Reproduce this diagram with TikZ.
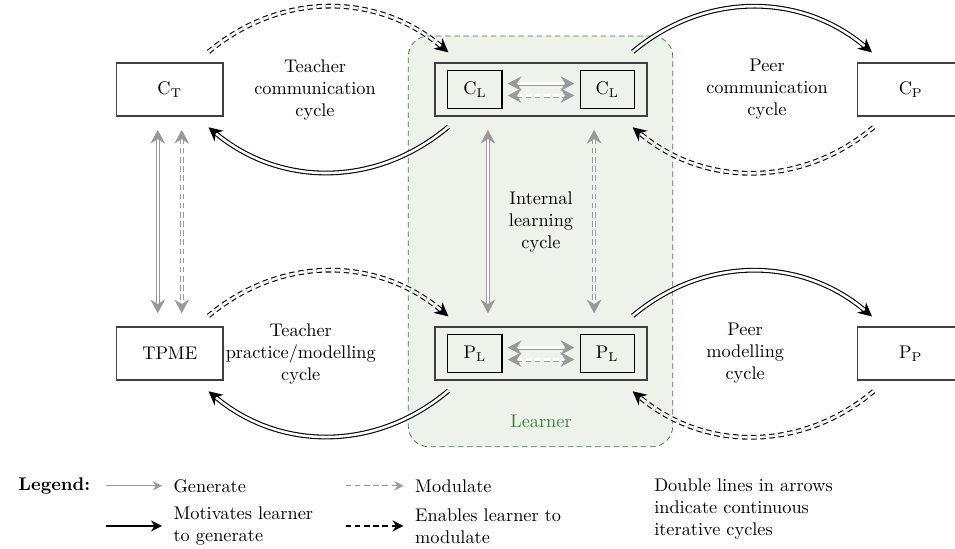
\documentclass[tikz,border=0pt]{standalone}
\usepackage{tikz}
\usetikzlibrary{arrows.meta,positioning,calc}

\definecolor{learnfill}{RGB}{237,242,235}
\definecolor{learngreen}{RGB}{56,132,46}

\begin{document}
\begin{tikzpicture}[
  box/.style={
    draw=black!75, line width=0.8pt,
    minimum width=2.04cm, minimum height=1.02cm, inner sep=0pt
  },
  pairbox/.style={box, minimum width=4.07cm},
  inbox/.style={
    draw, line width=0.6pt,
    minimum width=1.04cm, minimum height=0.73cm, inner sep=0pt
  },
  lbl/.style={align=center},
  genarr/.style={{Stealth[length=7.5pt,width=8pt]}-{Stealth[length=7.5pt,width=8pt]},
    black!40, line width=0.5pt, double, double distance=1.2pt},
  modarr/.style={genarr, densely dashed},
  cycarr/.style={-{Stealth[length=7.5pt,width=7.5pt]},
    line width=0.6pt, double, double distance=1.4pt},
  cycdash/.style={cycarr, densely dashed},
  lgen/.style={-{Stealth[length=5pt,width=5pt]}, black!40, line width=0.6pt},
  lmot/.style={-{Stealth[length=6pt,width=6pt]}, line width=1pt},
]
\useasboundingbox (0,0) rectangle (18.34,-10.54);

%% Learner area
\node[draw=learngreen, densely dashed, fill=learnfill, rounded corners=0.4cm,
  minimum width=5.08cm, minimum height=7.89cm] (learner) at (10.38,-4.635) {};
\node[text=learngreen] (learnlbl) at (10.39,-8.09) {Learner};

%% communication row
\node[box] (ct) at (3.26,-1.72) {$\mathrm{C_T}$};
\node[pairbox] (clo) at (10.39,-1.72) {};
\node[inbox] (cl1) at (9.12,-1.72) {$\mathrm{C_L}$};
\node[inbox] (cl2) at (11.66,-1.72) {$\mathrm{C_L}$};
\node[box] (cp) at (17.49,-1.72) {$\mathrm{C_P}$};

%% practice/modelling row
\node[box] (tpme) at (3.26,-6.79) {TPME};
\node[pairbox] (plo) at (10.39,-6.79) {};
\node[inbox] (pl1) at (9.12,-6.79) {$\mathrm{P_L}$};
\node[inbox] (pl2) at (11.66,-6.79) {$\mathrm{P_L}$};
\node[box] (pp) at (17.49,-6.79) {$\mathrm{P_P}$};

%% cycle labels
\node[lbl, left=1cm of clo] (tcc) {Teacher\\communication\\cycle};
\node[lbl, right=1cm of clo] (pcc) {Peer\\communication\\cycle};
\node[lbl, left=1cm of plo] (tpc) {Teacher\\practice/modelling\\cycle};
\node[lbl, right=1cm of plo] (pmc) {Peer\\modelling\\cycle};
\node[lbl] (ilc) at ($(clo)!0.5!(plo)$) {Internal\\learning\\cycle};

%% generate / modulate links
\draw[genarr, shorten <=0.25cm, shorten >=0.25cm]
  ([xshift=-0.23cm]ct.south) -- ([xshift=-0.23cm]tpme.north);
\draw[modarr, shorten <=0.25cm, shorten >=0.25cm]
  ([xshift=0.23cm]ct.south) -- ([xshift=0.23cm]tpme.north);
\draw[genarr, shorten <=0.25cm, shorten >=0.25cm]
  ([xshift=-1.02cm]clo.south) -- ([xshift=-1.02cm]plo.north);
\draw[modarr, shorten <=0.25cm, shorten >=0.25cm]
  ([xshift=1.02cm]clo.south) -- ([xshift=1.02cm]plo.north);
\draw[genarr, shorten <=0.1cm, shorten >=0.1cm]
  ([yshift=0.115cm]cl1.east) -- ([yshift=0.115cm]cl2.west);
\draw[modarr, shorten <=0.1cm, shorten >=0.1cm]
  ([yshift=-0.115cm]cl1.east) -- ([yshift=-0.115cm]cl2.west);
\draw[genarr, shorten <=0.1cm, shorten >=0.1cm]
  ([yshift=0.115cm]pl1.east) -- ([yshift=0.115cm]pl2.west);
\draw[modarr, shorten <=0.1cm, shorten >=0.1cm]
  ([yshift=-0.115cm]pl1.east) -- ([yshift=-0.115cm]pl2.west);

%% teacher cycles
\draw[cycdash] ([shift={(-0.29,0.2)}]ct.north east)
  to[bend left=40] ([shift={(0.27,0.19)}]clo.north west);
\draw[cycarr] ([shift={(0.27,-0.19)}]clo.south west)
  to[bend left=40] ([shift={(-0.29,-0.2)}]ct.south east);
\draw[cycdash] ([shift={(-0.29,0.2)}]tpme.north east)
  to[bend left=40] ([shift={(0.27,0.19)}]plo.north west);
\draw[cycarr] ([shift={(0.27,-0.19)}]plo.south west)
  to[bend left=40] ([shift={(-0.29,-0.2)}]tpme.south east);

%% peer cycles
\draw[cycarr] ([shift={(-0.29,0.2)}]clo.north east)
  to[bend left=40] ([shift={(0.29,0.19)}]cp.north west);
\draw[cycdash] ([shift={(0.32,-0.2)}]cp.south west)
  to[bend left=40] ([shift={(-0.29,-0.2)}]clo.south east);
\draw[cycarr] ([shift={(-0.29,0.2)}]plo.north east)
  to[bend left=40] ([shift={(0.29,0.19)}]pp.north west);
\draw[cycdash] ([shift={(0.32,-0.2)}]pp.south west)
  to[bend left=40] ([shift={(-0.29,-0.2)}]plo.south east);

%% legend
\node[anchor=west] (leg) at (0.23,-9.33) {\textbf{Legend:}};
\coordinate (lga) at (2.04,-9.33);
\coordinate (lgb) at (2.04,-10.10);
\coordinate (lgc) at (6.64,-9.33);
\coordinate (lgd) at (6.64,-10.10);
\node[anchor=west] (gen) at (3.21,-9.33) {Generate};
\node[anchor=west, align=left] (mot) at (3.21,-10.10) {Motivates learner\\to generate};
\node[anchor=west] (mod) at (7.85,-9.33) {Modulate};
\node[anchor=west, align=left] (ena) at (7.85,-10.10) {Enables learner to\\modulate};
\node[anchor=west, align=left] (note) at (12.44,-9.77)
  {Double lines in arrows\\indicate continuous\\iterative cycles};
\draw[lgen, shorten >=0.1cm] (lga) -- (gen);
\draw[lmot, shorten >=0.1cm] (lgb) -- (mot);
\draw[lgen, densely dashed, shorten >=0.1cm] (lgc) -- (mod);
\draw[lmot, densely dashed, shorten >=0.1cm] (lgd) -- (ena);
\end{tikzpicture}
\end{document}
